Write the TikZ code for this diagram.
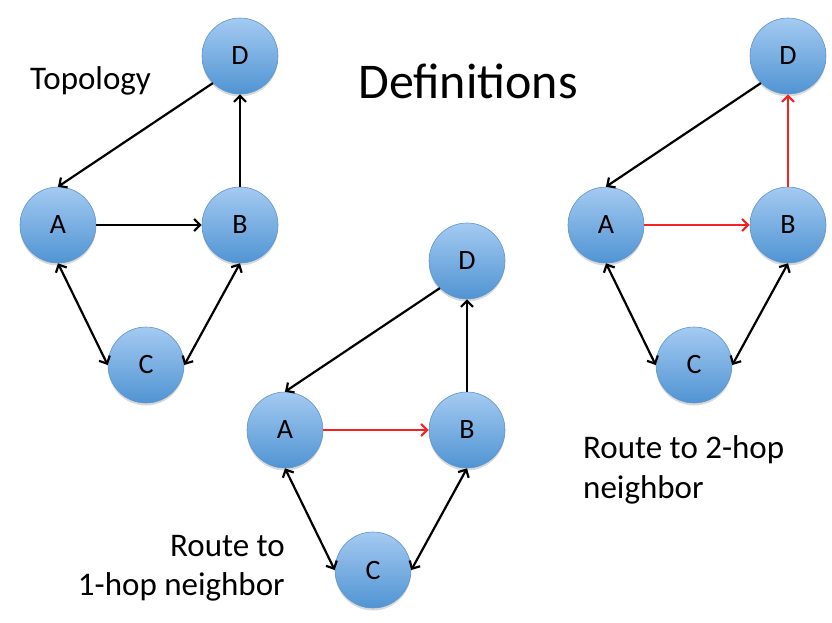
\documentclass[tikz,border=0pt]{standalone}
\usepackage{fontspec}
\setmainfont{Carlito}
\usetikzlibrary{arrows.meta,shadows}
\definecolor{ntop}{HTML}{A4CAF1}
\definecolor{nbot}{HTML}{5094D3}
\definecolor{nedge}{HTML}{5E95CE}
\definecolor{rd}{HTML}{F52222}
\tikzset{
  vtx/.style={circle, minimum size=76pt, inner sep=0pt, shading=axis,
    top color=ntop, bottom color=nbot, draw=nedge, line width=0.6pt,
    drop shadow={shadow xshift=0pt, shadow yshift=-2.5pt, opacity=0.25, fill=black!60},
    font=\fontsize{28}{30}\selectfont},
  conn/.style={line width=2.2pt, draw=black},
  rconn/.style={line width=2.2pt, draw=rd},
  tip/.style={-{Straight Barb[length=6pt,width=12pt]}},
  biptip/.style={{Straight Barb[length=6pt,width=12pt]}-{Straight Barb[length=6pt,width=12pt]}},
  lbl/.style={font=\fontsize{33}{39}\selectfont, inner sep=0pt}
}
\newcommand\mygraph[3]{%
  \node[vtx] (A#1) at (0,0) {A};
  \node[vtx] (B#1) at (182,0) {B};
  \node[vtx] (D#1) at (182,-169) {D};
  \node[vtx] (C#1) at (88,140) {C};
  \draw[conn,tip] (D#1.south west) -- (A#1.north);
  \draw[#2,tip] (A#1.east) -- (B#1.west);
  \draw[#3,tip] (B#1.north) -- (D#1.south);
  \draw[conn,biptip] (A#1.south) -- (C#1.west);
  \draw[conn,biptip] (B#1.south) -- (C#1.east);
}
\begin{document}
\begin{tikzpicture}[x=1pt,y=-1pt]
\useasboundingbox (0,0) rectangle (832,622);
\begin{scope}[shift={(58,225)}]
  \mygraph{1}{conn}{conn}
\end{scope}
\begin{scope}[shift={(285,430)}]
  \mygraph{2}{rconn}{conn}
\end{scope}
\begin{scope}[shift={(606,225)}]
  \mygraph{3}{rconn}{rconn}
\end{scope}
\node[lbl, anchor=base west] (topo) at (30,89) {Topology};
\node[lbl, anchor=base, font=\fontsize{50}{58}\selectfont] (defs) at (468,98) {Definitions};
\node[lbl, anchor=base east, align=right] (r1) at (285,556) {Route to};
\node[lbl, anchor=base east] (r1b) at (285,595) {1-hop neighbor};
\node[lbl, anchor=base west] (r2) at (583,458) {Route to 2-hop};
\node[lbl, anchor=base west] (r2b) at (583,498) {neighbor};
\end{tikzpicture}
\end{document}
